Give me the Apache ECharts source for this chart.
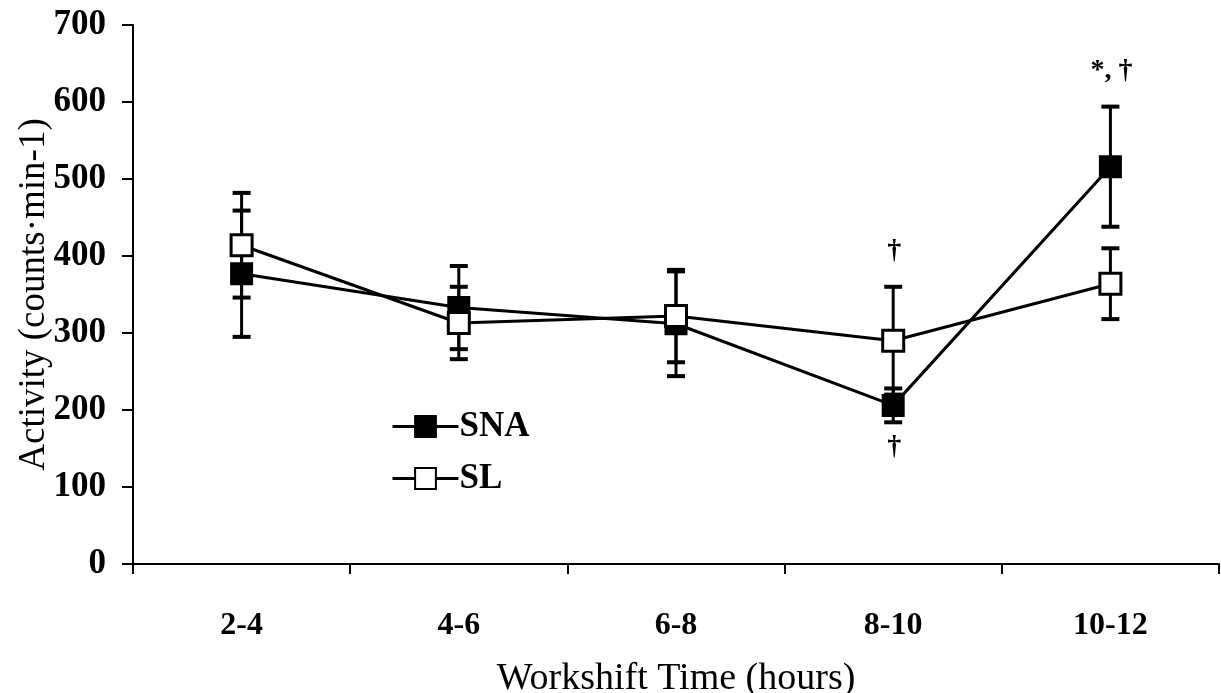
<!DOCTYPE html>
<html>
<head>
<meta charset="utf-8">
<script src="https://cdn.jsdelivr.net/npm/echarts@6/dist/echarts.min.js"></script>
<style>
  html, body { margin: 0; padding: 0; background: #fff; }
  #chart { width: 1221px; height: 693px; }
</style>
</head>
<body>
<div id="chart"></div>
<script>
// Activity by workshift period, mean ± SD for the two groups
const categories = ['2-4', '4-6', '6-8', '8-10', '10-12'];
const snaMean = [377, 333, 312, 206, 516];
const snaSD   = [82, 54, 68, 22, 78];
const slMean  = [414, 313, 322, 290, 364];
const slSD    = [68, 47, 60, 70, 46];
const yTicks  = [0, 100, 200, 300, 400, 500, 600, 700];

// Significance markers: [category index, group, side of the error bar, text]
const markers = [
  [4, 'SNA', 'above', '*, \u2020'],
  [3, 'SL', 'above', '\u2020'],
  [3, 'SNA', 'below', '\u2020']
];

const FONT = "'Liberation Serif', 'Times New Roman', serif";
const groups = { SNA: { mean: snaMean, sd: snaSD }, SL: { mean: slMean, sd: slSD } };

function errData(mean, sd) {
  return categories.map((c, i) => [i, mean[i] + sd[i], mean[i] - sd[i]]);
}

function renderErr(params, api) {
  const x = api.value(0);
  const top = api.coord([x, api.value(1)]);
  const bot = api.coord([x, api.value(2)]);
  const hw = 9;
  const st = { stroke: '#000', lineWidth: 3 };
  const cap = { stroke: '#000', lineWidth: 4 };
  return {
    type: 'group',
    children: [
      { type: 'line', shape: { x1: top[0], y1: top[1], x2: bot[0], y2: bot[1] }, style: st },
      { type: 'line', shape: { x1: top[0] - hw, y1: top[1], x2: top[0] + hw, y2: top[1] }, style: cap },
      { type: 'line', shape: { x1: bot[0] - hw, y1: bot[1], x2: bot[0] + hw, y2: bot[1] }, style: cap }
    ]
  };
}

const markerData = markers.map(m => {
  const g = groups[m[1]];
  const i = m[0];
  const v = m[2] === 'above' ? g.mean[i] + g.sd[i] : g.mean[i] - g.sd[i];
  return [i, v, m[2] === 'above' ? 1 : -1, m[3]];
});

function renderMarker(params, api) {
  const p = api.coord([api.value(0), api.value(1)]);
  const dir = api.value(2);
  const d = markerData[params.dataIndex];
  return {
    type: 'text',
    x: p[0] + 1,
    y: p[1] - dir * (dir > 0 ? 36 : 24),
    style: {
      text: d[3],
      font: 'bold 28px ' + FONT,
      fill: '#000',
      align: 'center',
      verticalAlign: 'middle'
    }
  };
}

const chart = echarts.init(document.getElementById('chart'), null, { renderer: 'canvas' });

chart.setOption({
  backgroundColor: '#fff',
  animation: false,
  grid: { left: 133, right: 2, top: 25, bottom: 129, outerBoundsMode: 'none', containLabel: false },
  legend: {
    left: 386,
    top: 404,
    orient: 'vertical',
    itemWidth: 66,
    itemHeight: 26,
    itemGap: 17,
    data: ['SNA', 'SL'],
    lineStyle: { width: 3, color: '#000' },
    textStyle: { fontFamily: FONT, fontWeight: 'bold', fontSize: 35, color: '#000', padding: [0, 0, 0, -4] }
  },
  xAxis: {
    type: 'category',
    data: categories,
    boundaryGap: true,
    name: 'Workshift Time (hours)',
    nameLocation: 'middle',
    nameGap: 96,
    nameMoveOverlap: false,
    nameTextStyle: { fontFamily: FONT, fontSize: 38, color: '#000' },
    axisLine: { lineStyle: { color: '#000', width: 2 } },
    axisTick: { show: true, length: 10, lineStyle: { color: '#000', width: 2 } },
    axisLabel: { fontFamily: FONT, fontWeight: 'bold', fontSize: 32, color: '#000', margin: 46 },
    splitLine: { show: false }
  },
  yAxis: {
    type: 'value',
    min: yTicks[0],
    max: yTicks[yTicks.length - 1],
    interval: yTicks[1] - yTicks[0],
    name: 'Activity (counts\u00b7min-1)',
    nameLocation: 'middle',
    nameGap: 80,
    nameMoveOverlap: false,
    nameTextStyle: { fontFamily: FONT, fontSize: 37, color: '#000' },
    axisLine: { show: true, lineStyle: { color: '#000', width: 2 } },
    axisTick: { show: true, length: 11, lineStyle: { color: '#000', width: 2 } },
    axisLabel: { fontFamily: FONT, fontWeight: 'bold', fontSize: 35, color: '#000', margin: 27 },
    splitLine: { show: false }
  },
  series: [
    {
      name: 'SNA-err', type: 'custom', renderItem: renderErr,
      data: errData(snaMean, snaSD), z: 1, silent: true
    },
    {
      name: 'SL-err', type: 'custom', renderItem: renderErr,
      data: errData(slMean, slSD), z: 1, silent: true
    },
    {
      name: 'SNA', type: 'line', data: snaMean, z: 3,
      symbol: 'rect', symbolSize: 21,
      lineStyle: { color: '#000', width: 3 },
      itemStyle: { color: '#000', borderColor: '#000', borderWidth: 2 }
    },
    {
      name: 'SL', type: 'line', data: slMean, z: 3,
      symbol: 'rect', symbolSize: 21,
      lineStyle: { color: '#000', width: 3 },
      itemStyle: { color: '#fff', borderColor: '#000', borderWidth: 3 }
    },
    {
      name: 'markers', type: 'custom', renderItem: renderMarker,
      data: markerData.map(d => [d[0], d[1], d[2]]), z: 4, silent: true
    }
  ]
});
</script>
</body>
</html>
